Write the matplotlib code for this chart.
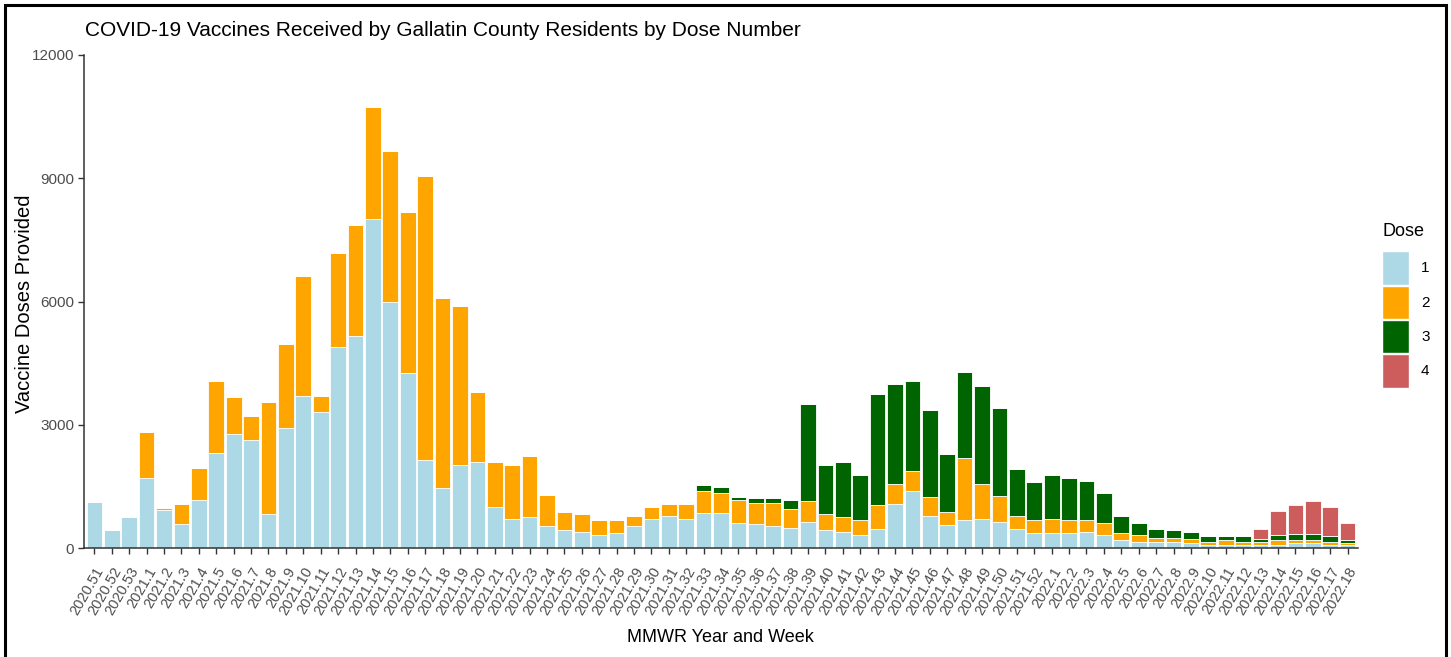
import matplotlib
matplotlib.use('Agg')
import matplotlib.pyplot as plt
import matplotlib.patches as mpatches
import numpy as np

#---------------------------------------------------------------------------------------------------
# Data
#---------------------------------------------------------------------------------------------------

weeks = (['2020.51', '2020.52', '2020.53']
         + ['2021.%d' % w for w in range(1, 53)]
         + ['2022.%d' % w for w in range(1, 19)])

dose1 = [1130, 430, 755, 1700, 925, 575, 1170, 2310, 2770, 2625, 820, 2910, 3690, 3300, 4895,
         5170, 8000, 5985, 4250, 2140, 1465, 2025, 2100, 1000, 715, 755, 535, 430, 400, 325,
         360, 535, 715, 780, 715, 855, 855, 610, 575, 535, 495, 640, 430, 390, 325, 465,
         1065, 1380, 780, 570, 675, 715, 640, 465, 360, 360, 360, 390, 325, 185, 145, 145,
         145, 115, 80, 80, 80, 80, 80, 115, 115, 80, 80]

dose2 = [0, 0, 0, 1135, 40, 490, 780, 1765, 910, 600, 2725, 2050, 2935, 390, 2295,
         2690, 2725, 3675, 3920, 6920, 4625, 3855, 1690, 1100, 1310, 1480, 750, 455, 425, 350,
         315, 245, 285, 285, 350, 535, 490, 560, 520, 560, 465, 495, 390, 360, 350, 570,
         495, 495, 465, 315, 1520, 845, 635, 315, 315, 355, 315, 285, 275, 170, 180, 105,
         105, 105, 65, 105, 65, 65, 105, 75, 75, 65, 35]

dose3 = [0, 0, 0, 0, 0, 0, 0, 0, 0, 0, 0, 0, 0, 0, 0,
         0, 0, 0, 0, 0, 0, 0, 0, 0, 0, 0, 0, 0, 0, 0,
         0, 0, 0, 0, 0, 145, 150, 75, 115, 115, 210, 2365, 1195, 1340, 1100, 2725,
         2440, 2195, 2120, 1415, 2090, 2375, 2130, 1140, 920, 1060, 1025, 950, 750, 420, 275, 220,
         180, 180, 140, 100, 140, 75, 140, 140, 140, 140, 75]

dose4 = [0] * 67 + [250, 570, 710, 815, 715, 415]

dose_labels = ['1', '2', '3', '4']
dose_colors = ['#ADD8E6', '#FFA500', '#006400', '#CD5C5C']

#---------------------------------------------------------------------------------------------------
# Make Plot
#---------------------------------------------------------------------------------------------------

plt.rcParams['font.family'] = ['Liberation Sans', 'DejaVu Sans']

W, H = 1451, 657
fig = plt.figure(figsize=(W / 100, H / 100), dpi=100)
ax = fig.add_axes([84 / W, 1 - 548 / H, (1358 - 84) / W, (548 - 55) / H])

x = np.arange(len(weeks))
bottom = np.zeros(len(weeks))
for vals, lab, col in zip([dose1, dose2, dose3, dose4], dose_labels, dose_colors):
    vals = np.array(vals, dtype=float)
    ax.bar(x, vals, width=0.9, bottom=bottom, color=col, edgecolor='white', lw=0.6, label=lab)
    bottom += vals

ax.set_xlim(-0.6, len(weeks) - 0.4)
ax.set_ylim(0, 12000)
ax.set_yticks([0, 3000, 6000, 9000, 12000])
ax.set_xticks(x)
ax.set_xticklabels(weeks, rotation=60, ha='right', rotation_mode='anchor')

for side in ['top', 'right']:
    ax.spines[side].set_visible(False)
for side in ['left', 'bottom']:
    ax.spines[side].set_color('#333333')
    ax.spines[side].set_linewidth(1.1)
ax.tick_params(axis='both', colors='#333333', labelcolor='#4D4D4D', length=4, width=1)
ax.tick_params(axis='x', labelsize=10.5, pad=8)
ax.tick_params(axis='y', labelsize=11, pad=3)

fig.text(25 / W, 1 - 304 / H, 'Vaccine Doses Provided', fontsize=14.5, rotation=90,
         ha='center', va='center')
fig.text(720 / W, 1 - 637 / H, 'MMWR Year and Week', fontsize=13, ha='center', va='center')
fig.text(85 / W, 1 - 30 / H, 'COVID-19 Vaccines Received by Gallatin County Residents by Dose Number',
         fontsize=15, ha='left', va='center')

handles = [mpatches.Patch(facecolor=c, edgecolor='white', label=l)
           for c, l in zip(dose_colors, dose_labels)]
leg = fig.legend(handles=handles, title='Dose', loc='upper left',
                 bbox_to_anchor=(1376 / W, 1 - 217 / H), frameon=False, fontsize=11,
                 title_fontsize=13, handlelength=1.75, handleheight=3.0, handletextpad=0.8,
                 labelspacing=0.05, borderaxespad=0)
leg._legend_box.align = 'left'
leg._legend_box.sep = 8

# frame round the whole picture
fig.patches.append(mpatches.Rectangle((5 / W, -0.02), 1441 / W, 1.02 - 5 / H,
                                      transform=fig.transFigure, fill=False,
                                      ec='black', lw=2.2))

plt.savefig('out.png', dpi=100)
plt.close()
